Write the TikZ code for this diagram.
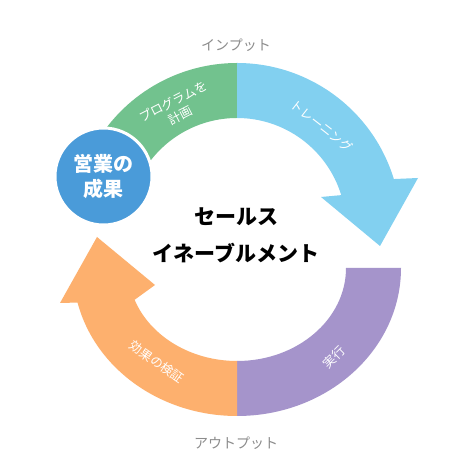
\documentclass[tikz,border=0pt]{standalone}
\usepackage{fontspec}
\setmainfont{Noto Sans CJK JP}
\newfontfamily\jp{Noto Sans CJK JP}
\definecolor{greenseg}{HTML}{72C28E}
\definecolor{blueseg}{HTML}{82D0F0}
\definecolor{purpleseg}{HTML}{A594CB}
\definecolor{orangeseg}{HTML}{FDB06E}
\definecolor{circblue}{HTML}{4A9BD9}
\definecolor{graytext}{HTML}{8C8C8C}
\tikzset{
  seglabel/.style={text=white, font=\jp\fontsize{12.5}{16}\selectfont, align=center, inner sep=0pt},
  iolabel/.style={text=graytext, font=\jp\fontsize{14}{16}\selectfont, inner sep=0pt},
}
\begin{document}
\begin{tikzpicture}[x=1pt,y=1pt]
\useasboundingbox (0,0) rectangle (474,476);
\fill[white] (0,0) rectangle (474,476);
\coordinate (C1) at (237,249);
\coordinate (C2) at (237,208);
% green segment
\fill[greenseg] ([shift={(90:164)}]C1) arc[start angle=90,end angle=148,radius=164]
  -- ([shift={(148:109)}]C1) arc[start angle=148,end angle=90,radius=109] -- cycle;
% blue arrow
\fill[blueseg] ([shift={(90:164)}]C1) arc[start angle=90,end angle=17,radius=164]
  -- (418,298) -- (380,230) -- (321,279)
  -- ([shift={(17:109)}]C1) arc[start angle=17,end angle=90,radius=109] -- cycle;
% purple segment
\fill[purpleseg] (401,208) arc[start angle=0,end angle=-90,x radius=164,y radius=148]
  -- (237,115) arc[start angle=-90,end angle=0,x radius=109,y radius=93] -- cycle;
% orange arrow
\fill[orangeseg] (237,60) arc[start angle=-90,end angle=-166.5,x radius=164,y radius=148]
  -- (60,173) -- (97,239) -- (155,191) -- (134.6,176.2)
  arc[start angle=-160,end angle=-90,x radius=109,y radius=93] -- cycle;
% result circle
\node[circle, fill=circblue, draw=white, line width=3, minimum size=97, inner sep=0pt,
      text=white, align=center, font=\jp\bfseries\fontsize{20}{25}\selectfont] (res) at (103.5,299.5) {営業の\\成果};
% labels
\node[seglabel, rotate=27] (plan) at (177,367.5) {プログラムを\\計画};
\node[seglabel, rotate=-38] (train) at (322,350) {トレーニング};
\node[seglabel, rotate=45] (exec) at (334,119) {実行};
\node[seglabel, rotate=-35] (verify) at (157,114) {効果の検証};
\node[iolabel] (input) at (236,431) {インプット};
\node[iolabel] (output) at (236,33) {アウトプット};
\node[font=\jp\bfseries\fontsize{21}{37}\selectfont, align=center, inner sep=0pt] (title) at (236,240.5) {セールス\\イネーブルメント};
\end{tikzpicture}
\end{document}
